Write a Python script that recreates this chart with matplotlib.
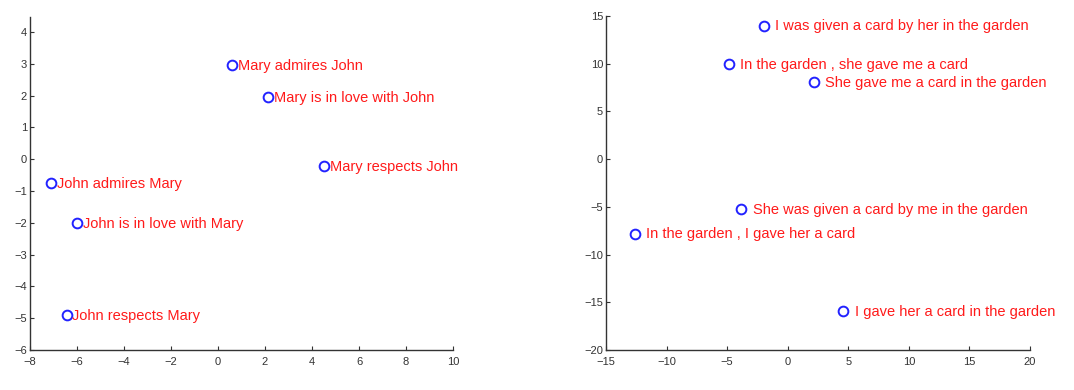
import matplotlib
matplotlib.use('Agg')
import matplotlib.pyplot as plt

plt.rcParams['font.family'] = ['Liberation Sans', 'DejaVu Sans']

# Левый график: предложения про John и Mary
left_labels = ['Mary admires John', 'Mary is in love with John', 'Mary respects John',
               'John admires Mary', 'John is in love with Mary', 'John respects Mary']
left_x = [0.6, 2.13, 4.51, -7.1, -6.0, -6.43]
left_y = [2.96, 1.96, -0.21, -0.75, -2.0, -4.9]

# Правый график: предложения про открытку в саду
right_labels = ['I was given a card by her in the garden', 'In the garden , she gave me a card',
                'She gave me a card in the garden', 'She was given a card by me in the garden',
                'In the garden , I gave her a card', 'I gave her a card in the garden']
right_x = [-1.95, -4.82, 2.18, -3.82, -12.58, 4.6]
right_y = [14.0, 9.95, 8.1, -5.25, -7.81, -15.9]

fig = plt.figure(figsize=(10.74, 3.9), dpi=100)
ax1 = fig.add_axes([0.0279, 0.1026, 0.3939, 0.8534])
ax2 = fig.add_axes([0.5642, 0.1026, 0.3948, 0.8564])


def style(ax):
    for s in ['top', 'right']:
        ax.spines[s].set_visible(False)
    for s in ['left', 'bottom']:
        ax.spines[s].set_color('#333333')
        ax.spines[s].set_linewidth(1.0)
    ax.tick_params(direction='in', length=3, labelsize=8, colors='#333333', pad=2)
    ax.tick_params(axis='x', pad=5)


def draw(ax, xs, ys, labels, offset):
    ax.plot(xs, ys, 'o', markerfacecolor='none', markeredgecolor='#2222ff',
            markersize=7, markeredgewidth=1.4, clip_on=False)
    for x, y, t in zip(xs, ys, labels):
        ax.annotate(t, (x, y), xytext=(offset, -0.5), textcoords='offset points',
                    va='center', ha='left', color='#ff1a1a', fontsize=10.5)


draw(ax1, left_x, left_y, left_labels, 4)
ax1.set_xlim(-8, 10)
ax1.set_ylim(-6, 4.47)
ax1.set_xticks(range(-8, 11, 2))
ax1.set_yticks(range(-6, 5, 1))
style(ax1)

draw(ax2, right_x, right_y, right_labels, 8)
ax2.set_xlim(-15, 20)
ax2.set_ylim(-20, 15)
ax2.set_xticks(range(-15, 21, 5))
ax2.set_yticks(range(-20, 16, 5))
style(ax2)

plt.savefig('out.png', dpi=100)
